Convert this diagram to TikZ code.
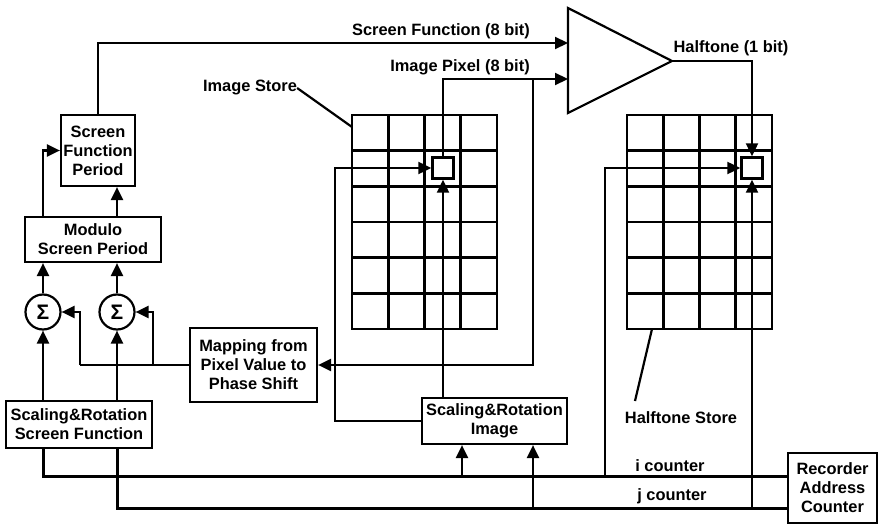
\documentclass[tikz,border=0pt]{standalone}
\usepackage{fontspec}
\setmainfont{Liberation Sans}
\usetikzlibrary{arrows.meta}
\tikzset{
  txt/.style={font=\fontsize{16.4}{19}\selectfont\bfseries, inner sep=0pt},
  box/.style={draw, line width=2.2pt, inner sep=0pt, align=center, txt},
  sumnode/.style={draw, circle, line width=2.2pt, minimum size=35pt, inner sep=0pt, font=\fontsize{21}{22}\selectfont\bfseries},
  cellbox/.style={draw, line width=2.4pt, minimum width=21pt, minimum height=21pt, inner sep=0pt},
  wire/.style={line width=2.2pt},
  arr/.style={wire, -{Triangle[length=13pt,width=12pt]}},
  bus/.style={line width=3pt},
  gridl/.style={line width=2.6pt},
}
\begin{document}
\begin{tikzpicture}[x=1pt,y=-1pt]
\useasboundingbox (0,0) rectangle (879,524);
% boxes
\node[box, minimum width=74pt, minimum height=71pt] (SFP) at (98,150.5) {Screen\\Function\\Period};
\node[box, minimum width=136pt, minimum height=45pt] (MSP) at (93,239.5) {Modulo\\Screen Period};
\node[box, minimum width=146pt, minimum height=47pt] (SRSF) at (79,424.5) {Scaling\&Rotation\\Screen Function};
\node[box, minimum width=127pt, minimum height=74pt] (Map) at (253.5,365) {Mapping from\\Pixel Value to\\Phase Shift};
\node[box, minimum width=145pt, minimum height=46pt] (SRI) at (494.5,421) {Scaling\&Rotation\\Image};
\node[box, minimum width=89pt, minimum height=70pt] (RAC) at (832.5,488) {Recorder\\Address\\Counter};
\node[sumnode] (s1) at (43,312) {Σ};
\node[sumnode] (s2) at (117,312) {Σ};
% grids
\foreach \gx/\nm in {352/IS,627/HS}{
  \node[draw, gridl, minimum width=145pt, minimum height=214pt, inner sep=0pt] (\nm) at (\gx+72.5,222) {};
  \foreach \i in {1,2,3} \draw[gridl] (\gx+\i*36.25,115) -- (\gx+\i*36.25,329);
  \foreach \j in {1,...,5} \draw[gridl] (\gx,115+\j*35.67) -- (\gx+145,115+\j*35.67);
}
\node[cellbox, fill=white] (px) at (443,168) {};
\node[cellbox, fill=white] (hp) at (752,168) {};
% comparator triangle
\coordinate (t1) at (568,8);
\coordinate (t2) at (568,113);
\coordinate (apex) at (672,61);
\draw[wire, line join=miter] (t1) -- (apex) -- (t2) -- cycle;
\coordinate (tin1) at (568,43);
\coordinate (tin2) at (568,79);
% labels
\node[txt] (lsf) at (441,31) {Screen Function (8 bit)};
\node[txt] (lip) at (460,67) {Image Pixel (8 bit)};
\node[txt] (lht) at (731,48) {Halftone (1 bit)};
\node[txt] (lis) at (250,88) {Image Store};
\node[txt] (lhs) at (681,418) {Halftone Store};
\node[txt] (lic) at (670,466) {i counter};
\node[txt] (ljc) at (672,496) {j counter};
\draw[wire] (lis.east) -- (352,127);
\draw[wire] (635,401) -- (652,329);
% connectors
\draw[arr] (SFP.north) |- (tin1);
\draw[arr] (px.north) |- (tin2);
\coordinate (br) at (533,79);
\draw[arr] (br) |- (Map.east);
\coordinate (m1) at (80,365);
\coordinate (m2) at (153,365);
\draw[wire] (Map.west) -- (m1);
\draw[arr] (m1) |- (s1.east);
\draw[arr] (m2) |- (s2.east);
\draw[arr] (s1.north) -- (s1.north |- MSP.south);
\draw[arr] (s2.north) -- (s2.north |- MSP.south);
\draw[arr] (SRSF.north -| s1) -- (s1.south);
\draw[arr] (SRSF.north -| s2) -- (s2.south);
\draw[arr] (MSP.north -| s1) |- (SFP.west);
\draw[arr] (MSP.north -| s2) -- (s2 |- SFP.south);
% counters
\coordinate (iy) at (0,476);
\coordinate (jy) at (0,508);
\draw[bus] (SRSF.south -| s1) |- (RAC.west |- iy);
\draw[bus] (SRSF.south -| s2) |- (RAC.west |- jy);
\coordinate (ia) at (462,476);
\coordinate (ja) at (533,508);
\draw[arr] (ia) -- (ia |- SRI.south);
\draw[arr] (ja) -- (ja |- SRI.south);
\coordinate (sl) at (335,0);
\draw[arr] (SRI.west) -- (SRI.west -| sl) |- (px.west);
\draw[arr] (SRI.north -| px) -- (px.south);
\draw[arr] (apex) -| (hp.north);
\coordinate (hl) at (605,476);
\draw[arr] (hl) |- (hp.west);
\draw[arr] (hp |- jy) -- (hp.south);
\end{tikzpicture}
\end{document}
